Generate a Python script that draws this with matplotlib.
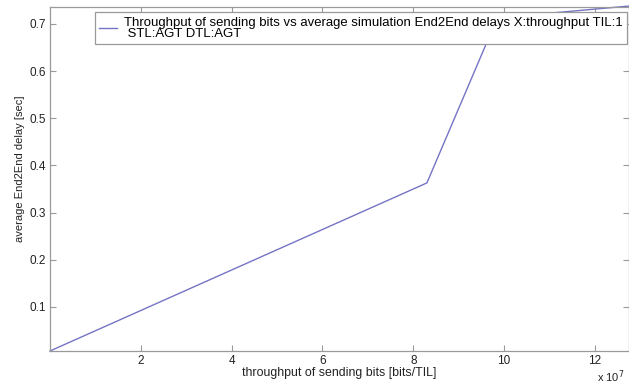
import matplotlib
matplotlib.use("Agg")
import matplotlib.pyplot as plt
from matplotlib.ticker import FuncFormatter

plt.rcParams['font.family'] = ['Liberation Sans', 'DejaVu Sans']

throughput = [0.0, 8.3e7, 9.85e7, 12.75e7]
delay = [0.0066, 0.363, 0.713, 0.738]
xticks = [2e7, 4e7, 6e7, 8e7, 10e7, 12e7]
yticks = [0.1, 0.2, 0.3, 0.4, 0.5, 0.6, 0.7]
legend_label = ("Throughput of sending bits vs average simulation End2End delays X:throughput TIL:1\n"
                " STL:AGT DTL:AGT")

fig = plt.figure(figsize=(6.29, 3.85), dpi=100)
ax = fig.add_axes([50/629, 1-351/385, 579/629, 344/385])

ax.plot(throughput, delay, color='#7474c4', lw=1.0, label=legend_label, clip_on=False)
ax.set_xlim(0, 12.75e7)
ax.set_ylim(0.0066, 0.736)
ax.set_xticks(xticks)
ax.set_yticks(yticks)
ax.xaxis.set_major_formatter(FuncFormatter(lambda v, p: f"{v/1e7:g}"))
ax.tick_params(direction='in', top=True, right=True, length=4, width=0.8,
               color='#999999', labelsize=8.5, labelcolor='#222222', pad=3)
for s in ax.spines.values():
    s.set_color('#999999')
    s.set_linewidth(0.9)

ax.set_xlabel("throughput of sending bits [bits/TIL]", fontsize=8.9, labelpad=0, color='#222222')
ax.set_ylabel("average End2End delay [sec]", fontsize=8.0, color='#222222')
ax.yaxis.set_label_coords(-0.044, 0.53)
fig.text(597/629, 1-377/385, "x 10$^7$", fontsize=8.0, color='#222222', va='center', ha='left')

leg = ax.legend(loc='upper right', bbox_to_anchor=(0.9965, 0.9855), fontsize=9.45,
                frameon=True, fancybox=False, framealpha=1, edgecolor='#999999',
                borderpad=0.35, handlelength=1.3, handletextpad=0.55, borderaxespad=0)
leg.get_frame().set_linewidth(0.9)
for t in leg.get_texts():
    t.set_linespacing(0.9)

fig.savefig("out.png", dpi=100)
